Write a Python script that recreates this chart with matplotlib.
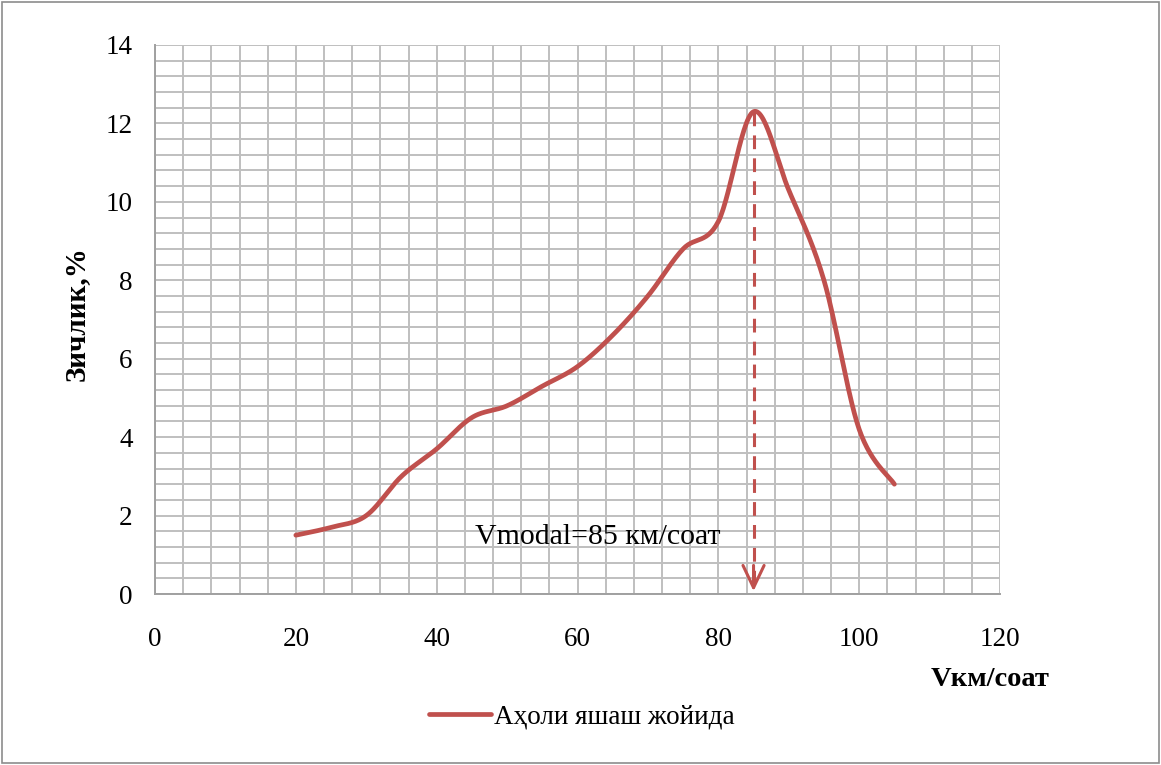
import numpy as np
import matplotlib.pyplot as plt
from matplotlib.patches import Rectangle

plt.rcParams['font.family'] = ['Liberation Serif', 'DejaVu Serif']

speed = [20, 25, 30, 35, 40, 45, 50, 55, 60, 65, 70, 75, 80, 85, 90, 95, 100, 105]
density = [1.5, 1.7, 2.0, 3.0, 3.7, 4.5, 4.8, 5.3, 5.8, 6.6, 7.6, 8.8, 9.5, 12.3, 10.3, 8.0, 4.2, 2.8]
v_modal = 85
series_name = 'Аҳоли яшаш жойида'
line_color = '#c0504d'


def smooth_curve(xs, ys, steps=30):
    # Catmull-Rom style bezier smoothing between the points
    xs = np.asarray(xs, float)
    ys = np.asarray(ys, float)
    px = np.concatenate([[xs[0]], xs, [xs[-1]]])
    py = np.concatenate([[ys[0]], ys, [ys[-1]]])
    out_x, out_y = [], []
    t = np.linspace(0, 1, steps)
    for i in range(1, len(px) - 2):
        p0 = np.array([px[i], py[i]])
        p3 = np.array([px[i + 1], py[i + 1]])
        p1 = p0 + (np.array([px[i + 1], py[i + 1]]) - np.array([px[i - 1], py[i - 1]])) / 6
        p2 = p3 - (np.array([px[i + 2], py[i + 2]]) - np.array([px[i], py[i]])) / 6
        b = ((1 - t) ** 3)[:, None] * p0 + (3 * (1 - t) ** 2 * t)[:, None] * p1 \
            + (3 * (1 - t) * t ** 2)[:, None] * p2 + (t ** 3)[:, None] * p3
        out_x.extend(b[:, 0])
        out_y.extend(b[:, 1])
    return out_x, out_y


fig = plt.figure(figsize=(11.61, 7.65), dpi=100)
ax = fig.add_axes([155 / 1161, 1 - 594 / 765, 845 / 1161, 549 / 765])

ax.set_xlim(0, 120)
ax.set_ylim(0, 14)
ax.set_xticks(np.arange(0, 121, 20))
ax.set_yticks(np.arange(0, 15, 2))
ax.set_xticks(np.arange(0, 121, 4), minor=True)
ax.set_yticks(np.arange(0, 14.01, 0.4), minor=True)
ax.grid(which='both', color='#bfbfbf', linewidth=1.4)
ax.set_axisbelow(True)
ax.tick_params(which='both', length=0, labelsize=19.5)
ax.tick_params(axis='y', pad=16)
ax.tick_params(axis='x', pad=24)
for s in ax.spines.values():
    s.set_color('#a0a0a0')
    s.set_linewidth(1.4)
ax.spines['top'].set_visible(False)
ax.spines['right'].set_visible(False)

sx, sy = smooth_curve(speed, density)
ax.plot(sx, sy, color=line_color, linewidth=3.4, solid_capstyle='round', label=series_name)

# dashed drop line from the peak down to the x axis
peak = density[speed.index(v_modal)]
ax.plot([v_modal, v_modal], [peak, 0.1], color=line_color, linewidth=2.2,
        linestyle=(0, (4.5, 3)))
ax.annotate('', xy=(v_modal, 0.0), xytext=(v_modal, 0.8),
            arrowprops=dict(arrowstyle='->, head_width=0.38, head_length=0.8',
                            color=line_color, lw=2.2, mutation_scale=20))

ax.text(45.5, 1.45, 'Vmodal=85 км/соат', fontsize=21.5, va='center', ha='left')

fig.text(76 / 1161, 1 - 314 / 765, 'Зичлик,%', rotation=90, fontsize=21,
         fontweight='bold', ha='center', va='center')
fig.text(990 / 1161, 1 - 680 / 765, 'Vкм/соат', fontsize=20.5,
         fontweight='bold', ha='center', va='center')

fig.legend(loc='center', bbox_to_anchor=(582 / 1161, 1 - 717 / 765), frameon=False,
           fontsize=19.5, handlelength=2.3, handletextpad=0.1)

fig.patches.append(Rectangle((0.002, 0.002), 0.996, 0.996, transform=fig.transFigure,
                             fill=False, edgecolor='#8c8c8c', linewidth=1.2))

fig.savefig('out.png', dpi=100)
